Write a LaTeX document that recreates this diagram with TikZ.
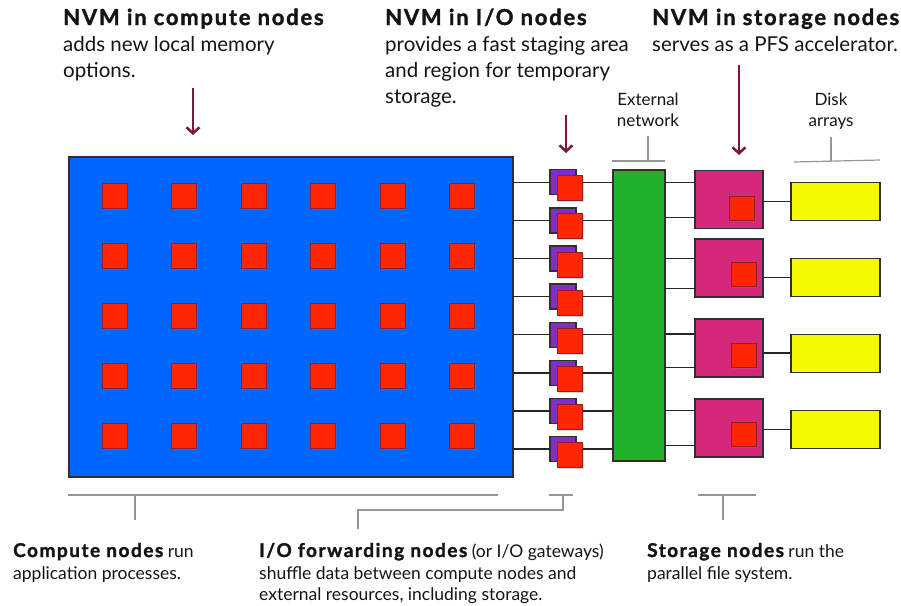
\documentclass[tikz,border=0pt]{standalone}
\usepackage{fontspec}
\setmainfont{Lato}[BoldFeatures={LetterSpace=8, FakeBold=1.5}]
\usetikzlibrary{arrows.meta,shadows}
\definecolor{cblue}{RGB}{0,102,255}
\definecolor{cred}{RGB}{255,38,0}
\definecolor{credline}{RGB}{150,28,45}
\definecolor{cpurple}{RGB}{128,46,202}
\definecolor{cgreen}{RGB}{34,178,42}
\definecolor{cmag}{RGB}{214,40,122}
\definecolor{cyellow}{RGB}{245,250,0}
\definecolor{boxline}{RGB}{48,48,48}
\definecolor{connline}{RGB}{38,38,38}
\definecolor{brkline}{RGB}{150,150,150}
\definecolor{cmaroon}{RGB}{122,24,58}
\definecolor{ctext}{RGB}{20,20,20}
\begin{document}
\begin{tikzpicture}[x=1pt,y=-1pt,
  box/.style={draw=boxline, line width=1.3pt, inner sep=0pt, outer sep=0pt},
  nvm/.style={draw=credline, fill=cred, line width=1pt, inner sep=0pt, outer sep=0pt,
     minimum width=25pt, minimum height=25pt,
     drop shadow={opacity=0.3, shadow xshift=1pt, shadow yshift=-1.5pt}},
  snvm/.style={nvm, minimum height=24pt},
  conn/.style={draw=connline, line width=1.5pt},
  brk/.style={draw=brkline, line width=1.2pt},
  nvmarrow/.style={draw=cmaroon, line width=2.5pt, -{Straight Barb[length=6pt,width=13pt]}},
  ttl/.style={anchor=base west, inner sep=0pt, text=ctext, font=\fontsize{22}{26}\selectfont\bfseries},
  body/.style={anchor=base west, inner sep=0pt, text=ctext, font=\fontsize{20.5}{26}\selectfont},
  lbl/.style={anchor=base, inner sep=0pt, text=ctext, font=\fontsize{17}{21}\selectfont},
  bot/.style={anchor=base west, inner sep=0pt, text=ctext, font=\fontsize{17.5}{22}\selectfont}
]
\newcommand{\botbf}[1]{{\fontsize{19}{22}\selectfont\bfseries\addfontfeatures{LetterSpace=13}#1}}
\useasboundingbox (0,0) rectangle (901,605);

% compute nodes
\node[box, fill=cblue, minimum width=444pt, minimum height=320pt, anchor=north west] (comp) at (69,157) {};
\foreach \i in {0,...,5}{
  \foreach \j in {0,...,4}{
    \node[nvm] (c\i\j) at ({114.5+69.5*\i},{196+60*\j}) {};
  }
}

% external network
\node[box, fill=cgreen, minimum width=52pt, minimum height=291pt, anchor=north west] (net) at (613,170) {};

% I/O forwarding nodes
\foreach \k in {0,...,7}{
  \pgfmathsetmacro\yk{182.3+38.1*\k}
  \node[box, fill=cpurple, minimum width=26pt, minimum height=25pt] (p\k) at (563,\yk) {};
  \node[nvm] (r\k) at (570,\yk+6) {};
  \draw[conn] (p\k.west -| comp.east) -- (p\k.west);
  \draw[conn] (p\k.west -| r\k.east) -- (p\k.west -| net.west);
}

% storage nodes
\node[box, fill=cmag, minimum width=68pt, minimum height=58pt, anchor=north west] (s1) at (695,170.5) {};
\node[box, fill=cmag, minimum width=68pt, minimum height=58pt, anchor=north west] (s2) at (695,239) {};
\node[box, fill=cmag, minimum width=68pt, minimum height=58pt, anchor=north west] (s3) at (695,319) {};
\node[box, fill=cmag, minimum width=68pt, minimum height=58pt, anchor=north west] (s4) at (695,399) {};
\node[snvm] (sr1) at (741.8,208) {};
\node[snvm] (sr2) at (743.5,274.7) {};
\node[snvm] (sr3) at (743.5,355.3) {};
\node[snvm] (sr4) at (743.5,434.3) {};

% disk arrays
\node[box, fill=cyellow, minimum width=89pt, minimum height=38pt] (d1) at (835.5,201.5) {};
\node[box, fill=cyellow, minimum width=89pt, minimum height=38pt] (d2) at (835.5,277.5) {};
\node[box, fill=cyellow, minimum width=89pt, minimum height=38pt] (d3) at (835.5,353.2) {};
\node[box, fill=cyellow, minimum width=89pt, minimum height=38pt] (d4) at (835.5,429.5) {};

% network -> storage
\coordinate (g1) at (0,182.3);
\coordinate (g2) at (0,217.7);
\coordinate (g3) at (0,258.3);
\coordinate (g4) at (0,288.3);
\coordinate (g5) at (0,334);
\coordinate (g6) at (0,367.3);
\coordinate (g7) at (0,410.7);
\coordinate (g8) at (0,445.7);
\draw[conn] (net.east |- g1) -- (s1.west |- g1);
\draw[conn] (net.east |- g2) -- (s1.west |- g2);
\draw[conn] (net.east |- g3) -- (s2.west |- g3);
\draw[conn] (net.east |- g4) -- (s2.west |- g4);
\draw[conn] (net.east |- g5) -- (s3.west |- g5);
\draw[conn] (net.east |- g6) -- (s3.west |- g6);
\draw[conn] (net.east |- g7) -- (s4.west |- g7);
\draw[conn] (net.east |- g8) -- (s4.west |- g8);

% storage -> disks
\draw[conn] (s1.east |- d1.west) -- (d1.west);
\draw[conn] (s2.east |- d2.west) -- (d2.west);
\draw[conn] (s3.east |- d3.west) -- (d3.west);
\draw[conn] (s4.east |- d4.west) -- (d4.west);

% top brackets
\coordinate (ena) at (612,161); \coordinate (enb) at (665,161);
\coordinate (enm) at (648,161); \coordinate (ent) at (648,136);
\draw[brk] (ena) -- (enb);
\draw[brk] (enm) -- (ent);
\coordinate (daa) at (794,162); \coordinate (dab) at (880,160);
\coordinate (dam) at (831,161); \coordinate (dat) at (831,137);
\draw[brk] (daa) -- (dab);
\draw[brk] (dam) -- (dat);

% bottom brackets
\coordinate (cba) at (68,495); \coordinate (cbb) at (498,495);
\coordinate (cbm) at (135,495); \coordinate (cbt) at (135,520);
\draw[brk] (cba) -- (cbb);
\draw[brk] (cbm) -- (cbt);
\coordinate (iba) at (549,495); \coordinate (ibb) at (573,495);
\coordinate (ibm) at (563,495); \coordinate (ibc) at (563,510);
\coordinate (ibd) at (358,510); \coordinate (ibt) at (358,529);
\draw[brk] (iba) -- (ibb);
\draw[brk] (ibm) -- (ibc) -- (ibd) -- (ibt);
\coordinate (sba) at (698,495); \coordinate (sbb) at (756,495);
\coordinate (sbm) at (723,495); \coordinate (sbt) at (723,520);
\draw[brk] (sba) -- (sbb);
\draw[brk] (sbm) -- (sbt);

% NVM arrows
\coordinate (a1s) at (193,88); \coordinate (a1e) at (193,135);
\coordinate (a2s) at (566,115); \coordinate (a2e) at (566,153);
\coordinate (a3s) at (739,65); \coordinate (a3e) at (739,155);
\draw[nvmarrow] (a1s) -- (a1e);
\draw[nvmarrow] (a2s) -- (a2e);
\draw[nvmarrow] (a3s) -- (a3e);

% top texts
\node[ttl] (t1) at (63,25) {NVM in compute nodes};
\node[body] (t1a) at (63,51) {adds new local memory};
\node[body] (t1b) at (63,77) {options.};
\node[ttl] (t2) at (385,25) {NVM in I/O nodes};
\node[body] (t2a) at (385,51) {provides a fast staging area};
\node[body] (t2b) at (385,77) {and region for temporary};
\node[body] (t2c) at (385,103) {storage.};
\node[ttl] (t3) at (652,25) {NVM in storage nodes};
\node[body] (t3a) at (652,51) {serves as a PFS accelerator.};
\node[lbl] (en1) at (648,105) {External};
\node[lbl] (en2) at (648,126) {network};
\node[lbl] (da1) at (831,105) {Disk};
\node[lbl] (da2) at (831,126) {arrays};

% bottom texts
\node[bot] (b1) at (13,557) {\botbf{Compute nodes} run};
\node[bot] (b1a) at (13,579) {application processes.};
\node[bot] (b2) at (259,557) {\botbf{I/O forwarding nodes} (or I/O gateways)};
\node[bot] (b2a) at (259,579) {shuffle data between compute nodes and};
\node[bot] (b2b) at (259,600) {external resources, including storage.};
\node[bot] (b3) at (647,557) {\botbf{Storage nodes} run the};
\node[bot] (b3a) at (647,579) {parallel file system.};
\end{tikzpicture}
\end{document}
